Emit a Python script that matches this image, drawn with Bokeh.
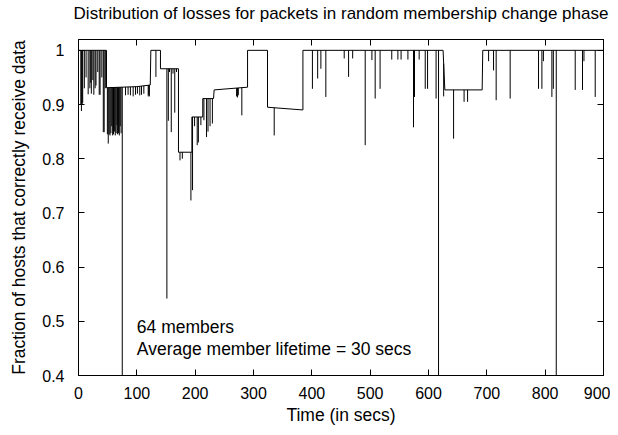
import numpy as np
from bokeh.plotting import figure
from bokeh.models import Range1d, LinearAxis, FixedTicker, Label
from bokeh.embed import file_html
from bokeh.resources import INLINE

# ---- data ----
# base level of the fraction (step curve), time in secs
base_time = [0, 48, 48, 100, 123, 124, 140.5, 140.5, 171.4, 171.4,
             194.4, 194.4, 213, 213, 231.5, 232.5, 289.8, 289.8, 324, 324,
             384.7, 384.7, 625, 628, 692, 693, 900]
base_frac = [1.0, 1.0, 0.931, 0.933, 0.936, 1.0, 1.0, 0.966, 0.966, 0.812,
             0.812, 0.877, 0.877, 0.911, 0.911, 0.927, 0.932, 1.0, 1.0, 0.895,
             0.89, 1.0, 1.0, 0.927, 0.927, 1.0, 1.0]

# individual loss spikes: (time, fraction)
loss_time = [4, 5, 6.3, 7.2, 10, 13, 16.6, 19.5, 21, 22, 24.6, 26.3, 28.5, 30, 33, 35.5, 37, 40, 42.5, 44, 46,
             49.5, 51, 52.5, 54, 55.5, 57, 58.5, 60, 61.5, 63, 64.5, 66, 67, 68.5, 70, 71.5, 73,
             75, 80.6, 85, 89, 93.7, 97.7, 101, 105, 108, 112, 119.5, 120.5, 121.5,
             132.7, 151.5, 154, 156, 159, 162, 165, 168,
             174, 178, 192.7, 195.5, 199, 203.5, 205.5, 209.8,
             215, 219.5, 222, 225.5, 229.5,
             271, 272.5, 274, 280, 335.5,
             401, 410, 415.5, 424, 455.5, 463, 470, 491.5, 503, 508.6, 517,
             537, 547.5, 553, 564.7, 574.3, 576, 584, 594.4, 598.4, 613, 617.2,
             626, 643, 661, 667,
             703, 711.5, 716, 740, 788.6, 794.4, 797, 811.5, 814, 819,
             851.5, 864, 866.5, 885.8]
loss_frac = [0.90, 0.888, 0.90, 0.903, 0.93, 0.95, 0.919, 0.93, 0.94, 0.92, 0.945, 0.918, 0.93, 0.935, 0.96, 0.918, 0.918, 0.95, 0.849, 0.849, 0.93,
             0.845, 0.828, 0.845, 0.843, 0.847, 0.86, 0.843, 0.845, 0.85, 0.843, 0.847, 0.862, 0.845, 0.847, 0.843, 0.86, 0.847,
             0.40, 0.917, 0.918, 0.917, 0.915, 0.918, 0.92, 0.917, 0.918, 0.92, 0.915, 0.918, 0.915,
             0.951, 0.542, 0.87, 0.96, 0.849, 0.957, 0.885, 0.96,
             0.797, 0.80, 0.723, 0.742, 0.86, 0.825, 0.83, 0.862,
             0.871, 0.84, 0.85, 0.86, 0.865,
             0.915, 0.913, 0.917, 0.88, 0.843,
             0.929, 0.948, 0.966, 0.914, 0.985, 0.951, 0.985, 0.825, 0.982, 0.911, 0.929,
             0.983, 0.983, 0.983, 0.983, 0.858, 0.914, 0.983, 0.929, 0.929, 0.911, 0.40,
             0.915, 0.837, 0.905, 0.905,
             0.98, 0.963, 0.908, 0.911, 0.929, 0.929, 0.98, 0.914, 0.929, 0.40,
             0.927, 0.927, 0.98, 0.914]

x_ticks = [0, 100, 200, 300, 400, 500, 600, 700, 800, 900]
y_ticks = [0.4, 0.5, 0.6, 0.7, 0.8, 0.9, 1.0]
y_tick_labels = ["0.4", "0.5", "0.6", "0.7", "0.8", "0.9", "1"]

title_text = "Distribution of losses for packets in random membership change phase"
x_label = "Time (in secs)"
y_label = "Fraction of hosts that correctly receive data"
note_lines = ["64 members", "Average member lifetime = 30 secs"]

FONT = "Liberation Sans"
X0, X1, Y0, Y1 = 0, 900, 0.4, 1.02

p = figure(width=610, height=427, x_range=Range1d(X0, X1), y_range=Range1d(Y0, Y1),
           output_backend="svg", toolbar_location=None, title=None,
           min_border_left=78, min_border_right=7, min_border_top=39, min_border_bottom=50,
           x_axis_location=None, y_axis_location=None)
p.grid.visible = False
p.outline_line_color = "black"
p.outline_line_width = 1
p.background_fill_color = "white"
p.border_fill_color = "white"


def style_axis(ax, show_labels):
    ax.major_tick_in = 6
    ax.major_tick_out = 0
    ax.minor_tick_line_color = None
    ax.axis_line_color = "black"
    ax.major_tick_line_color = "black"
    ax.axis_label_text_font = FONT
    ax.axis_label_text_font_size = "17.5px"
    ax.axis_label_text_font_style = "normal"
    ax.axis_label_text_color = "black"
    if show_labels:
        ax.major_label_text_font = FONT
        ax.major_label_text_font_size = "16px"
        ax.major_label_text_color = "black"
    else:
        ax.major_label_text_font_size = "1px"
        ax.major_label_text_color = None
        ax.major_label_standoff = 0


xb = LinearAxis(ticker=FixedTicker(ticks=x_ticks), axis_label=x_label)
style_axis(xb, True)
xb.major_label_standoff = 11
xb.axis_label_standoff = 3
p.add_layout(xb, "below")

yl = LinearAxis(ticker=FixedTicker(ticks=y_ticks), axis_label=y_label)
style_axis(yl, True)
yl.major_label_overrides = dict(zip(y_ticks, y_tick_labels))
yl.major_label_standoff = 14
yl.axis_label_standoff = 10
p.add_layout(yl, "left")

# top axis: mirrored ticks, carries the chart title as its label
xt = LinearAxis(ticker=FixedTicker(ticks=x_ticks), axis_label=title_text)
style_axis(xt, False)
xt.axis_label_text_font_size = "17px"
xt.axis_label_standoff = 17
p.add_layout(xt, "above")

yr = LinearAxis(ticker=FixedTicker(ticks=y_ticks))
style_axis(yr, False)
p.add_layout(yr, "right")

# base curve
p.line(base_time, base_frac, line_color="black", line_width=1)
# spikes from base level down to the measured fraction
loss_base = np.interp(loss_time, base_time, base_frac)
p.segment(x0=loss_time, y0=loss_base, x1=loss_time, y1=loss_frac,
          line_color="black", line_width=1)

# annotation inside the plot (data units)
for txt, yy in zip(note_lines, [0.4886, 0.449]):
    p.add_layout(Label(x=100, y=yy, text=txt, text_font=FONT, text_font_size="17.5px",
                       text_color="black", text_baseline="alphabetic", text_align="left"))

open("out.html", "w").write(file_html(p, INLINE))
